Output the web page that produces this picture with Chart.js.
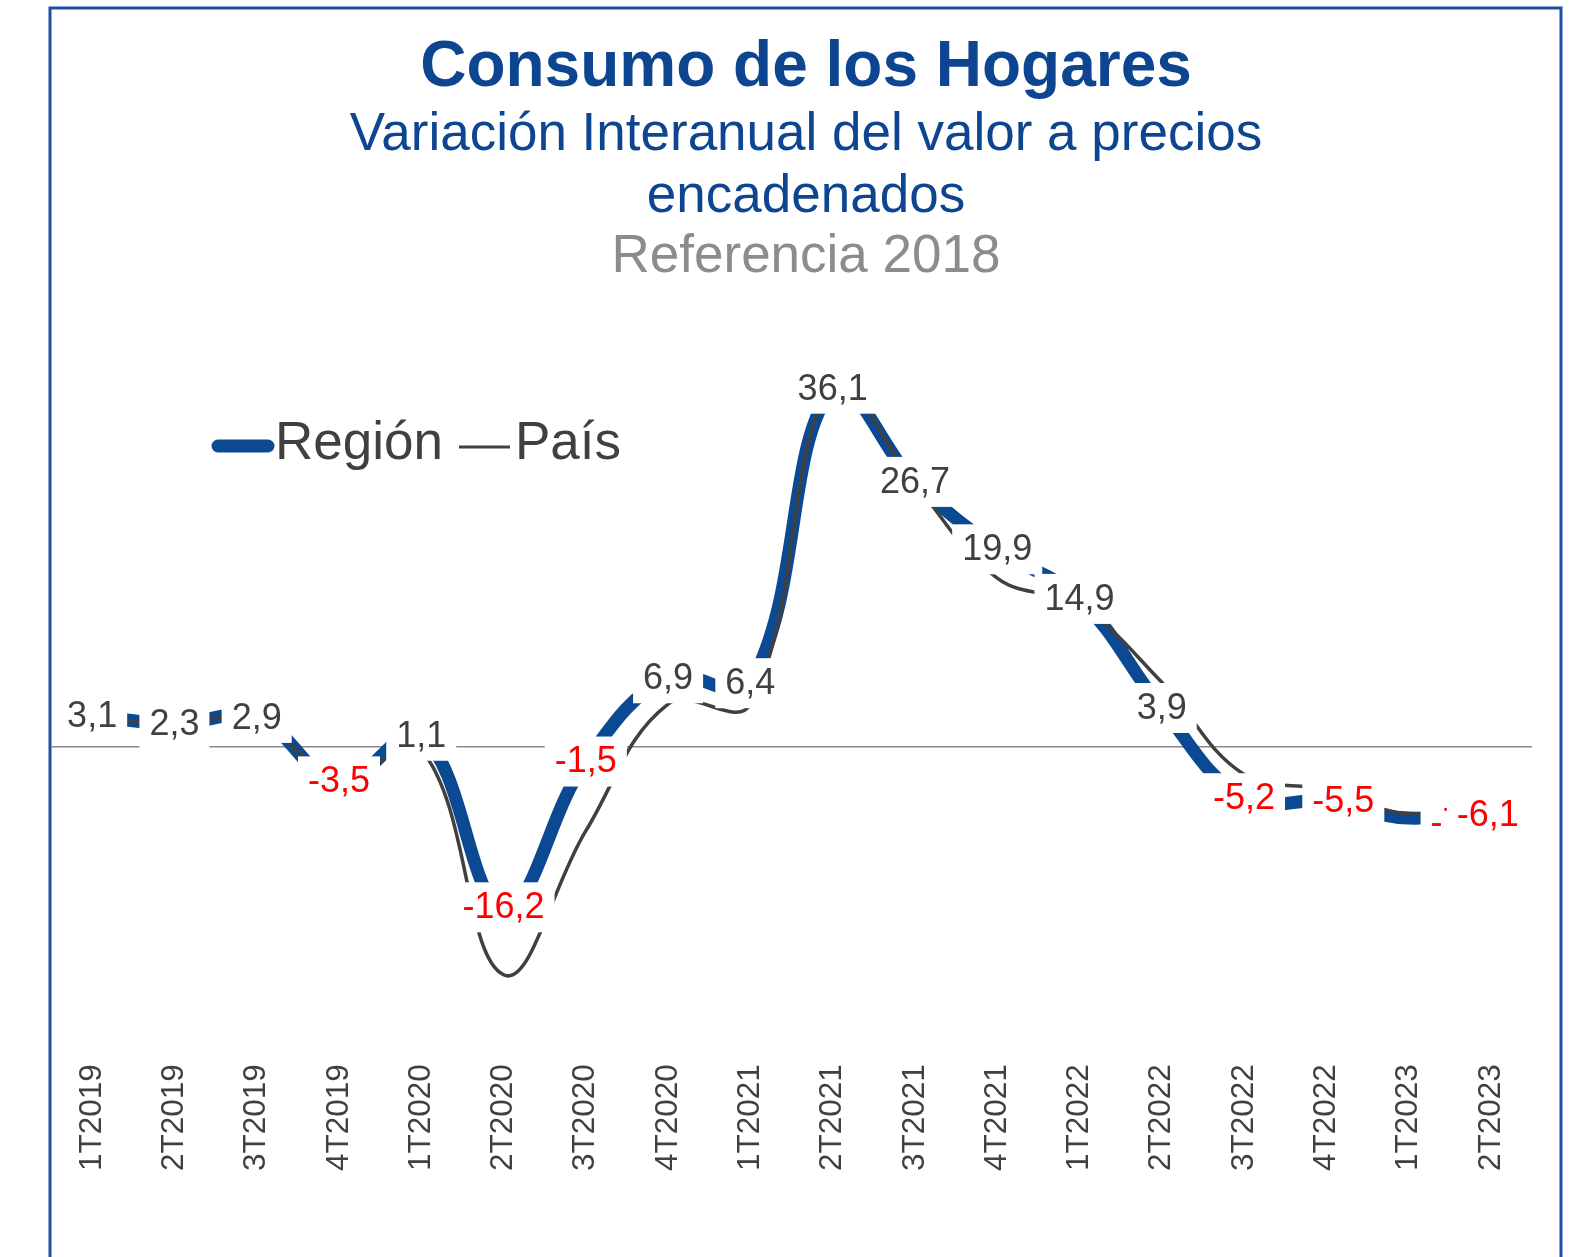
<!DOCTYPE html>
<html>
<head>
<meta charset="utf-8">
<script src="https://cdn.jsdelivr.net/npm/chart.js@4.4.0/dist/chart.umd.min.js"></script>
<style>
  html, body { margin: 0; padding: 0; background: #fff; }
  canvas { display: block; }
</style>
</head>
<body>
<canvas id="consumoChart" width="1582" height="1257"></canvas>
<script>
// quarters on the x axis
const quarters = ['1T2019', '2T2019', '3T2019', '4T2019', '1T2020', '2T2020', '3T2020', '4T2020',
  '1T2021', '2T2021', '3T2021', '4T2021', '1T2022', '2T2022', '3T2022', '4T2022', '1T2023', '2T2023'];

// interannual variation, %
const regionValues = [3.1, 2.3, 2.9, -3.5, 1.1, -16.2, -1.5, 6.9, 6.4, 36.1, 26.7, 19.9, 14.9, 3.9, -5.2, -5.5, -7.2, -6.1];
const paisValues = [2.9, 2.4, 2.6, -3.2, -0.3, -23.0, -8.5, 4.3, 4.3, 36.5, 26.5, 17.0, 14.2, 6.5, -2.8, -4.3, -6.8, -5.6];

const FONT = '"Liberation Sans", Arial, sans-serif';
const BLUE = '#0b4a92';
const GREY_TEXT = '#404040';

// frame around the whole figure (runs off the bottom like the original)
const framePlugin = {
  id: 'frame',
  beforeDraw(chart) {
    const ctx = chart.ctx;
    ctx.save();
    ctx.strokeStyle = '#1c4f9c';
    ctx.lineWidth = 3;
    ctx.strokeRect(50, 8, 1511, 1300);
    ctx.restore();
  }
};

// title block
const headerPlugin = {
  id: 'header',
  afterDraw(chart) {
    const ctx = chart.ctx;
    const cx = 806;
    ctx.save();
    ctx.textAlign = 'center';
    ctx.textBaseline = 'middle';
    ctx.fillStyle = '#0d4590';
    ctx.font = 'bold 64px ' + FONT;
    ctx.fillText('Consumo de los Hogares', cx, 68);
    ctx.font = '53px ' + FONT;
    ctx.fillText('Variación Interanual del valor a precios', cx, 135);
    ctx.fillText('encadenados', cx, 197);
    ctx.fillStyle = '#8c8c8c';
    ctx.fillText('Referencia 2018', cx, 257);
    ctx.restore();
  }
};

// legend drawn inside the plot, like the excel one
const legendPlugin = {
  id: 'insideLegend',
  afterDraw(chart) {
    const ctx = chart.ctx;
    const ds = chart.data.datasets;
    ctx.save();
    ctx.lineCap = 'round';
    ctx.strokeStyle = ds[0].borderColor;
    ctx.lineWidth = 13;
    ctx.beginPath(); ctx.moveTo(218, 446); ctx.lineTo(268, 446); ctx.stroke();
    ctx.lineCap = 'butt';
    ctx.strokeStyle = ds[1].borderColor;
    ctx.lineWidth = 3;
    ctx.beginPath(); ctx.moveTo(459, 447); ctx.lineTo(510, 447); ctx.stroke();
    ctx.fillStyle = GREY_TEXT;
    ctx.font = '53px ' + FONT;
    ctx.textBaseline = 'middle';
    ctx.fillText(ds[0].label, 275, 444);
    ctx.fillText(ds[1].label, 515, 444);
    ctx.restore();
  }
};

// value labels with white boxes on the Región series
const valueLabelPlugin = {
  id: 'valueLabels',
  afterDatasetsDraw(chart, args, opts) {
    const ctx = chart.ctx;
    const meta = chart.getDatasetMeta(0);
    ctx.save();
    ctx.font = '36px ' + FONT;
    ctx.textAlign = 'center';
    ctx.textBaseline = 'middle';
    meta.data.forEach((pt, i) => {
      const v = regionValues[i];
      const txt = v.toFixed(1).replace('.', ',');
      const nudge = opts.nudge[i] || [0, 0];
      const x = pt.x + nudge[0];
      const y = pt.y + nudge[1];
      const w = ctx.measureText(txt).width + 2 * opts.padX;
      const h = opts.boxH;
      ctx.fillStyle = '#ffffff';
      ctx.fillRect(x - w / 2, y - h / 2, w, h);
      ctx.fillStyle = v < 0 ? '#ff0000' : GREY_TEXT;
      ctx.fillText(txt, x, y + 1);
    });
    ctx.restore();
  }
};

const ctxConsumo = document.getElementById('consumoChart').getContext('2d');
const consumoChart = new Chart(ctxConsumo, {
  type: 'line',
  data: {
    labels: quarters,
    datasets: [
      {
        label: 'Región',
        data: regionValues,
        borderColor: BLUE,
        borderWidth: 13,
        pointRadius: 0,
        tension: 0.4,
        order: 2
      },
      {
        label: 'País',
        data: paisValues,
        borderColor: '#404040',
        borderWidth: 3.5,
        pointRadius: 0,
        tension: 0.4,
        order: 1
      }
    ]
  },
  options: {
    responsive: false,
    animation: false,
    layout: { padding: { top: 350, left: 51, right: 50, bottom: 66 } },
    plugins: {
      legend: { display: false },
      title: { display: false },
      tooltip: { enabled: false },
      valueLabels: {
        padX: 10,
        boxH: 50,
        nudge: { 15: [17, 0], 16: [53, 5], 17: [-3, 8] }
      }
    },
    scales: {
      x: {
        offset: true,
        grid: { display: false, drawTicks: false },
        border: { display: false },
        ticks: {
          color: GREY_TEXT,
          font: { family: FONT, size: 31.5 },
          minRotation: 90,
          maxRotation: 90,
          padding: 20,
          autoSkip: false
        }
      },
      y: {
        min: -30,
        max: 40,
        grid: {
          drawTicks: false,
          lineWidth: 1.5,
          color: c => (c.tick && c.tick.value === 0) ? '#8a8a8a' : 'rgba(0,0,0,0)'
        },
        border: { display: false },
        ticks: { display: false, stepSize: 10 }
      }
    }
  },
  plugins: [framePlugin, valueLabelPlugin, legendPlugin, headerPlugin]
});
</script>
</body>
</html>
